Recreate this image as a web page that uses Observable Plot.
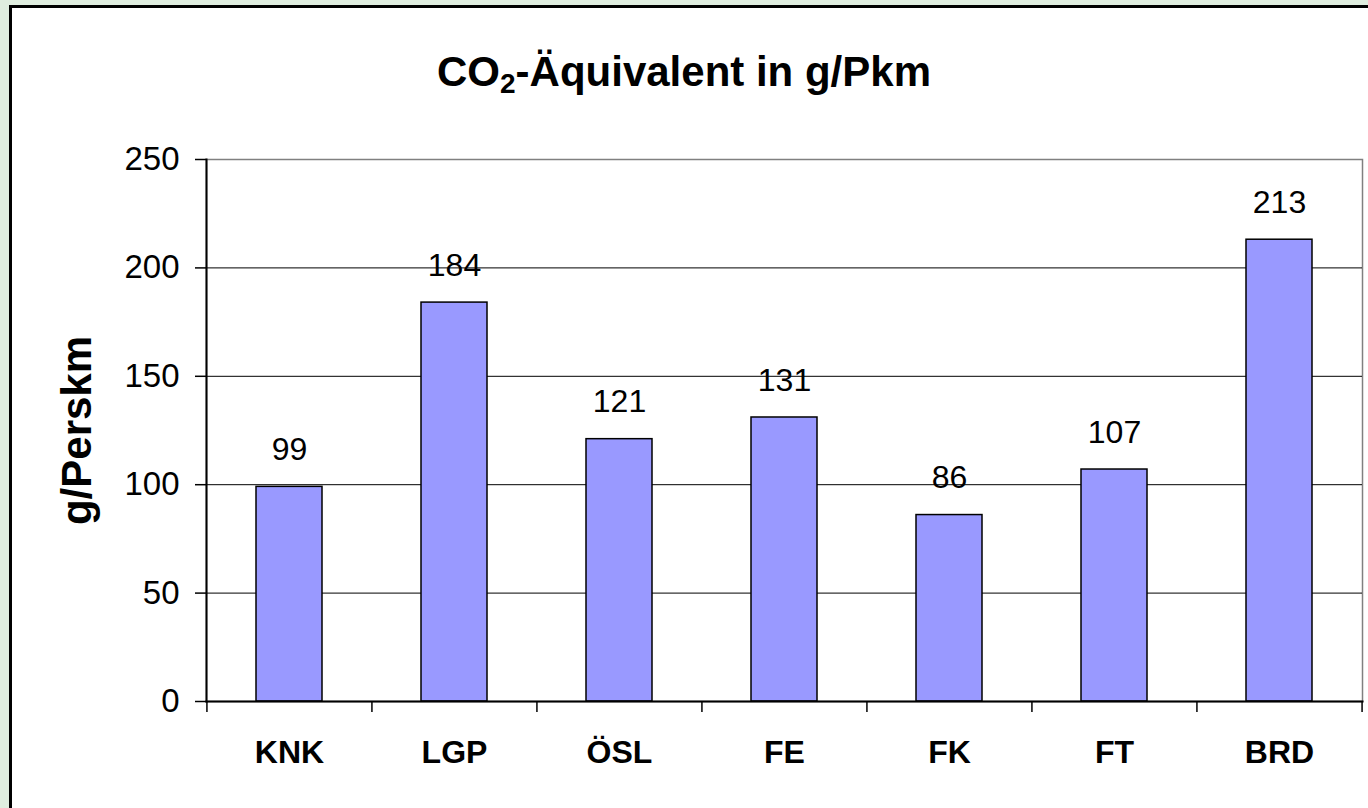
<!DOCTYPE html>
<html>
<head>
<meta charset="utf-8">
<script src="https://cdn.jsdelivr.net/npm/d3@7"></script>
<script src="https://cdn.jsdelivr.net/npm/@observablehq/plot@0.6"></script>
<style>
  html, body { margin: 0; padding: 0; width: 1368px; height: 808px; overflow: hidden; background: #dfeddf; font-family: "Liberation Sans", Arial, sans-serif; }
  #box { position: absolute; left: 9px; top: 5px; width: 1400px; height: 900px; background: #fff; border-left: 3px solid #000; border-top: 3px solid #000; }
  #title { position: absolute; left: 0; width: 1368px; top: 48px; text-align: center; font-weight: bold; font-size: 42px; line-height: 48px; color: #000; }
  #title sub { font-size: 28px; vertical-align: -7px; line-height: 0; }
  #chart { position: absolute; left: 0; top: 0; }
  #chart svg { background: transparent; overflow: visible; }
  g[aria-label="y-axis label"] text { font-weight: bold; font-size: 42px; }
  g[aria-label="x-axis tick label"] text { font-weight: bold; }
</style>
</head>
<body>
<div id="box"></div>
<div id="title">CO<sub>2</sub>-Äquivalent in g/Pkm</div>
<div id="chart"></div>
<script>
const categories = ["KNK", "LGP", "ÖSL", "FE", "FK", "FT", "BRD"];
const values = [99, 184, 121, 131, 86, 107, 213];
const yTicks = [0, 50, 100, 150, 200, 250];
const gridValues = [50, 100, 150, 200];

const data = categories.map((c, i) => ({cat: c, value: values[i]}));

const W = 1368, H = 808;
const ml = 206, mr = 6, mt = 159, mb = 107;
const step = (W - ml - mr) / categories.length;

const chart = Plot.plot({
  width: W,
  height: H,
  marginLeft: ml,
  marginRight: mr,
  marginTop: mt,
  marginBottom: mb,
  style: { fontFamily: '"Liberation Sans", Arial, sans-serif', fontSize: "33px", color: "#000", background: "transparent" },
  x: { domain: categories, paddingInner: 0.6, paddingOuter: 0.3 },
  y: { domain: [0, 250] },
  marks: [
    Plot.frame({ stroke: "#808080", strokeWidth: 1.5 }),
    Plot.ruleY(gridValues, { stroke: "#000", strokeWidth: 1 }),
    Plot.barY(data, { x: "cat", y: "value", fill: "#9999ff", stroke: "#000", strokeWidth: 1.5 }),
    Plot.text(data, { x: "cat", y: "value", text: d => String(d.value), dy: -37, fontSize: 32, fill: "#000" }),
    Plot.frame({ anchor: "left", stroke: "#000", strokeWidth: 2 }),
    Plot.frame({ anchor: "bottom", stroke: "#000", strokeWidth: 2 }),
    Plot.axisY({ ticks: yTicks, tickSize: 11, tickPadding: 16, fontSize: 33, strokeWidth: 1.5,
      label: "g/Perskm", labelAnchor: "center", labelArrow: "none", labelOffset: 145 }),
    Plot.axisX({ tickSize: 11, strokeWidth: 1.5, text: null, label: null, dx: -step / 2 }),
    Plot.axisX({ ticks: ["BRD"], tickSize: 11, strokeWidth: 1.5, text: null, label: null, dx: step / 2 }),
    Plot.axisX({ tickSize: 0, tickPadding: 39, fontSize: 32, fontWeight: "bold", label: null })
  ]
});
document.getElementById("chart").appendChild(chart);
</script>
</body>
</html>
